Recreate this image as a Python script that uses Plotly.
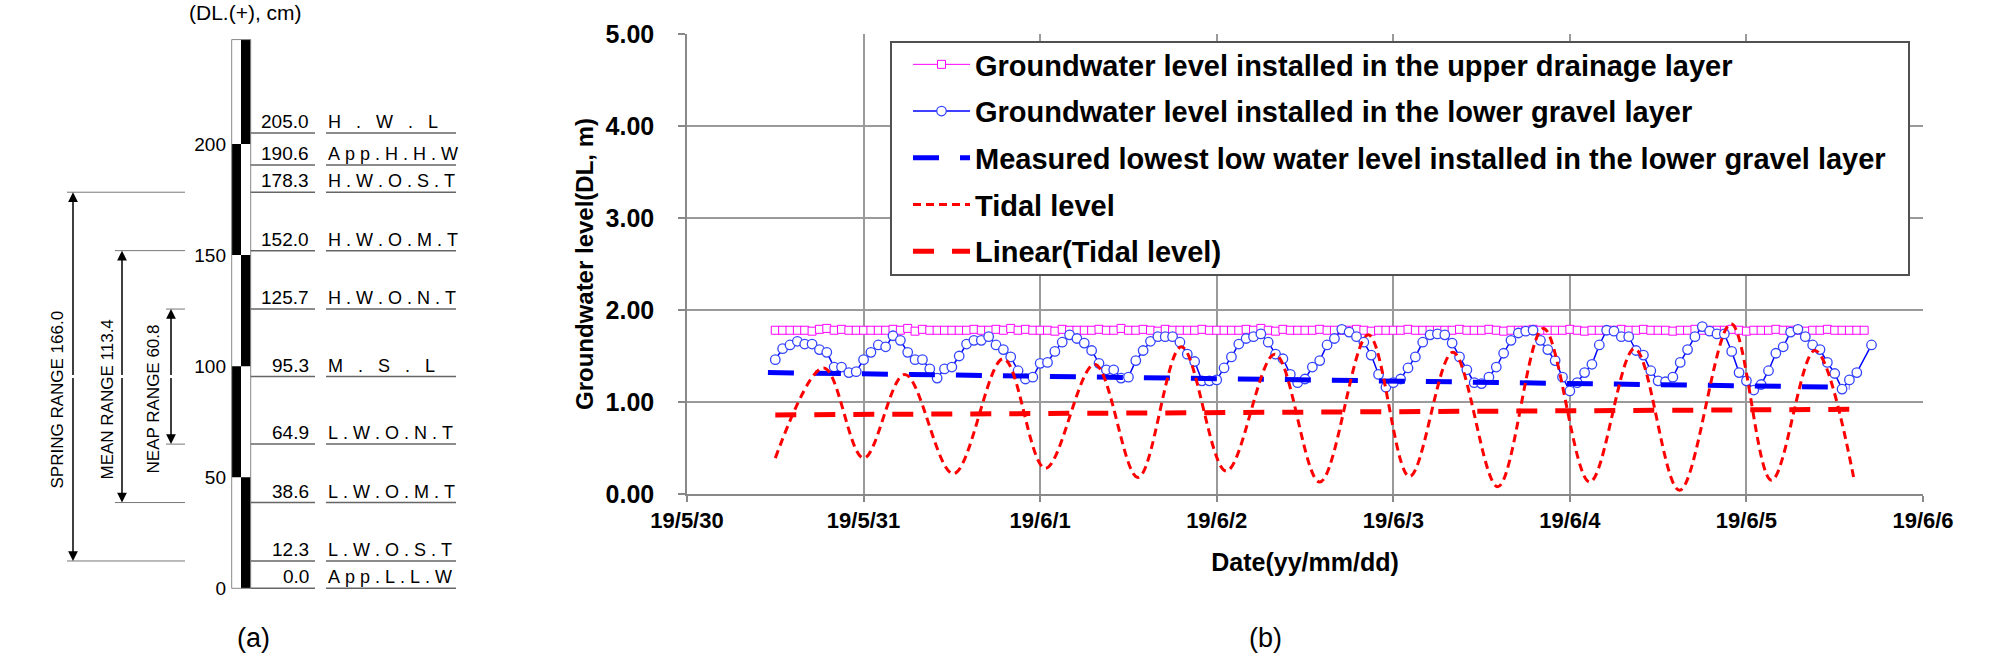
import plotly.graph_objects as go
import pandas as pd

# ---------------- Panel (b) data ----------------
series_start = "2019-05-30 12:00"   # first hourly observation

upper_drainage = [
    1.78, 1.78, 1.78, 1.78, 1.78, 1.77, 1.79, 1.80, 1.78, 1.79, 1.78, 1.78,
    1.78, 1.78, 1.78, 1.78, 1.79, 1.78, 1.80, 1.77, 1.79, 1.78, 1.78, 1.78,
    1.78, 1.78, 1.78, 1.79, 1.78, 1.78, 1.79, 1.78, 1.80, 1.78, 1.79, 1.78,
    1.78, 1.78, 1.77, 1.79, 1.78, 1.78, 1.78, 1.78, 1.79, 1.78, 1.78, 1.80,
    1.78, 1.78, 1.79, 1.78, 1.77, 1.79, 1.78, 1.78, 1.78, 1.78, 1.79, 1.78,
    1.78, 1.78, 1.78, 1.78, 1.79, 1.78, 1.80, 1.78, 1.77, 1.79, 1.78, 1.78,
    1.78, 1.78, 1.79, 1.78, 1.78, 1.78, 1.78, 1.79, 1.78, 1.77, 1.78, 1.78,
    1.78, 1.78, 1.79, 1.78, 1.78, 1.78, 1.78, 1.78, 1.78, 1.79, 1.78, 1.78,
    1.78, 1.79, 1.78, 1.77, 1.78, 1.78, 1.78, 1.79, 1.78, 1.78, 1.78, 1.78,
    1.79, 1.78, 1.77, 1.78, 1.78, 1.78, 1.78, 1.79, 1.78, 1.78, 1.79, 1.78,
    1.78, 1.78, 1.77, 1.78, 1.78, 1.79, 1.78, 1.78, 1.78, 1.78, 1.79, 1.78,
    1.77, 1.78, 1.78, 1.78, 1.79, 1.78, 1.78, 1.78, 1.77, 1.78, 1.78, 1.79,
    1.78, 1.78, 1.78, 1.78, 1.78,
]

lower_gravel = [
    1.46, 1.58, 1.62, 1.66, 1.63, 1.63, 1.57, 1.54, 1.38, 1.38, 1.32, 1.33,
    1.46, 1.54, 1.62, 1.60, 1.72, 1.67, 1.54, 1.46, 1.46, 1.36, 1.26, 1.36,
    1.38, 1.50, 1.63, 1.67, 1.67, 1.71, 1.62, 1.57, 1.49, 1.34, 1.25, 1.27,
    1.42, 1.43, 1.55, 1.65, 1.73, 1.69, 1.64, 1.56, 1.42, 1.35, 1.35, 1.26,
    1.27, 1.45, 1.56, 1.66, 1.71, 1.71, 1.71, 1.65, 1.52, 1.44, 1.23, 1.23,
    1.24, 1.37, 1.49, 1.63, 1.69, 1.71, 1.74, 1.65, 1.52, 1.47, 1.30, 1.21,
    1.25, 1.38, 1.45, 1.62, 1.69, 1.79, 1.76, 1.71, 1.65, 1.51, 1.30, 1.16,
    1.21, 1.25, 1.37, 1.49, 1.65, 1.73, 1.74, 1.73, 1.64, 1.49, 1.35, 1.21,
    1.20, 1.27, 1.38, 1.53, 1.67, 1.75, 1.77, 1.78, 1.67, 1.57, 1.45, 1.27,
    1.12, 1.21, 1.32, 1.41, 1.62, 1.78, 1.77, 1.71, 1.71, 1.56, 1.51, 1.34,
    1.23, 1.22, 1.27, 1.43, 1.57, 1.71, 1.82, 1.77, 1.74, 1.74, 1.55, 1.32,
    1.23, 1.13, 1.19, 1.34, 1.53, 1.60, 1.76, 1.79, 1.71, 1.62, 1.57, 1.43,
    1.31, 1.14, 1.24, 1.32, None, 1.62,
]

lowest_low_times = ["2019-05-30 11:00", "2019-06-05 14:00"]
lowest_low_values = [1.32, 1.16]

tidal_times = [
    "2019-05-30 12:00", "2019-05-30 18:36", "2019-05-31 00:00", "2019-05-31 05:36",
    "2019-05-31 12:12", "2019-05-31 19:00", "2019-06-01 00:42", "2019-06-01 07:24",
    "2019-06-01 13:18", "2019-06-01 19:12", "2019-06-02 01:18", "2019-06-02 07:54",
    "2019-06-02 14:00", "2019-06-02 20:36", "2019-06-03 02:12", "2019-06-03 08:06",
    "2019-06-03 14:12", "2019-06-03 20:24", "2019-06-04 02:42", "2019-06-04 08:48",
    "2019-06-04 14:54", "2019-06-04 21:54", "2019-06-05 03:24", "2019-06-05 09:18",
    "2019-06-05 14:42",
]
tidal_values = [
    0.39, 1.37, 0.39, 1.30, 0.22, 1.47, 0.28, 1.41, 0.18, 1.60, 0.25, 1.52,
    0.13, 1.73, 0.19, 1.54, 0.08, 1.80, 0.13, 1.58, 0.04, 1.85, 0.15, 1.56,
    0.13,
]

tidal_trend_times = ["2019-05-30 12:00", "2019-06-05 14:00"]
tidal_trend_values = [0.86, 0.92]

x_tick_dates = ["2019-05-30", "2019-05-31", "2019-06-01", "2019-06-02",
                "2019-06-03", "2019-06-04", "2019-06-05", "2019-06-06"]
x_tick_labels = ["19/5/30", "19/5/31", "19/6/1", "19/6/2",
                 "19/6/3", "19/6/4", "19/6/5", "19/6/6"]
y_tick_values = [0, 1, 2, 3, 4, 5]

series_names = [
    "Groundwater level installed in the upper drainage layer",
    "Groundwater level installed in the lower gravel layer",
    "Measured lowest low water level installed in the lower gravel layer",
    "Tidal level",
    "Linear(Tidal level)",
]

# ---------------- Panel (a) data ----------------
level_values = [205.0, 190.6, 178.3, 152.0, 125.7, 95.3, 64.9, 38.6, 12.3, 0.0]
level_names = ["H . W . L", "App.H.H.W", "H.W.O.S.T", "H.W.O.M.T", "H.W.O.N.T",
               "M . S . L", "L.W.O.N.T", "L.W.O.M.T", "L.W.O.S.T", "App.L.L.W"]
range_names = ["SPRING RANGE", "MEAN RANGE", "NEAP RANGE"]
range_tops = [178.3, 152.0, 125.7]
range_bottoms = [12.3, 38.6, 64.9]
scale_ticks = [0, 50, 100, 150, 200]
scale_top = 247

# ---------------- layout constants ----------------
W, H = 2008, 661
SANS = "Liberation Sans, Arial, sans-serif"

def fx(p):
    return p / W

def fy(p):
    return 1 - p / H

fig = go.Figure()

hourly = pd.date_range(series_start, periods=len(lower_gravel), freq="h")
hourly_up = pd.date_range(series_start, periods=len(upper_drainage), freq="h")

fig.add_trace(go.Scatter(
    x=hourly_up, y=upper_drainage, name=series_names[0], legendgroup="g1",
    mode="lines+markers",
    line=dict(color="#FF00FF", width=1),
    marker=dict(symbol="square", size=8, color="white",
                line=dict(color="#FF00FF", width=1)),
))
fig.add_trace(go.Scatter(
    x=hourly, y=lower_gravel, name=series_names[1], legendgroup="g2",
    mode="lines+markers", connectgaps=True,
    line=dict(color="#0000FF", width=1.5),
    marker=dict(symbol="circle", size=9.5, color="white",
                line=dict(color="#3344FF", width=1.3)),
))
fig.add_trace(go.Scatter(
    x=lowest_low_times, y=lowest_low_values, name=series_names[2], legendgroup="g3",
    mode="lines", line=dict(color="#0000FF", width=5, dash="26px,21px"),
))
fig.add_trace(go.Scatter(
    x=tidal_times, y=tidal_values, name=series_names[3], legendgroup="g4",
    mode="lines", line=dict(color="#FF0000", width=3, dash="8px,5px",
                            shape="spline", smoothing=1.0),
))
fig.add_trace(go.Scatter(
    x=tidal_trend_times, y=tidal_trend_values, name=series_names[4], legendgroup="g5",
    mode="lines", line=dict(color="#FF0000", width=5, dash="21px,18px"),
))

# ---------------- Panel (a) drawing ----------------
shapes = []
annotations = []

BAR_L, BAR_M, BAR_R = 231.7, 241.0, 250.7
seg = 0
lo = 0
while lo < scale_top:
    hi = min(lo + 50, scale_top)
    x0, x1 = (BAR_M, BAR_R) if seg % 2 == 0 else (BAR_L, BAR_M)
    shapes.append(dict(type="rect", xref="x2", yref="y2", x0=x0, x1=x1, y0=lo, y1=hi,
                       fillcolor="black", line=dict(width=0), layer="above"))
    lo = hi
    seg += 1
shapes.append(dict(type="rect", xref="x2", yref="y2", x0=BAR_L, x1=BAR_R, y0=0, y1=scale_top,
                   fillcolor="rgba(0,0,0,0)", line=dict(color="#888888", width=1), layer="above"))

for val, name in zip(level_values, level_names):
    shapes.append(dict(type="line", xref="x2", yref="y2", x0=BAR_R, x1=315, y0=val, y1=val,
                       line=dict(color="#666666", width=1.5)))
    shapes.append(dict(type="line", xref="x2", yref="y2", x0=326, x1=456, y0=val, y1=val,
                       line=dict(color="#666666", width=1.5)))
    annotations.append(dict(xref="x2", yref="y2", x=311, y=val, text=f"{val:.1f}",
                            xanchor="right", yanchor="bottom", showarrow=False,
                            font=dict(family=SANS, size=19, color="black"), yshift=-1))
    shown = "\u00a0".join(name.replace(" ", "\u00a0"))
    annotations.append(dict(xref="x2", yref="y2", x=326, y=val, text=shown,
                            xanchor="left", yanchor="bottom", showarrow=False,
                            font=dict(family=SANS, size=18, color="black"), yshift=-1))

range_x = [73, 122, 171]
range_line_x0 = [67, 115, 166]
range_text_x = [57, 107, 153]
for name, top, bot, lx, hx, tx in zip(range_names, range_tops, range_bottoms,
                                      range_x, range_line_x0, range_text_x):
    for v in (top, bot):
        shapes.append(dict(type="line", xref="x2", yref="y2", x0=hx, x1=185, y0=v, y1=v,
                           line=dict(color="#777777", width=1)))
    mid = (top + bot) / 2
    for v in (top, bot):
        annotations.append(dict(xref="x2", yref="y2", axref="x2", ayref="y2",
                                x=lx, y=v, ax=lx, ay=mid, text="", showarrow=True,
                                arrowhead=2, arrowsize=1.3, arrowwidth=1.5,
                                arrowcolor="black", standoff=0, startstandoff=0))
    annotations.append(dict(xref="x2", yref="y2", x=tx, y=85, textangle=-90,
                            text=f"{name} {top - bot:.1f}", showarrow=False,
                            xanchor="center", yanchor="middle",
                            font=dict(family=SANS, size=17, color="black")))

annotations.append(dict(xref="paper", yref="paper", x=fx(245), y=fy(13),
                        text="(DL.(+), cm)", showarrow=False, xanchor="center",
                        yanchor="middle", font=dict(family=SANS, size=21, color="black")))
annotations.append(dict(xref="paper", yref="paper", x=fx(253), y=fy(638),
                        text="(a)", showarrow=False, xanchor="center", yanchor="middle",
                        font=dict(family=SANS, size=27, color="black")))
annotations.append(dict(xref="paper", yref="paper", x=fx(1265), y=fy(638),
                        text="(b)", showarrow=False, xanchor="center", yanchor="middle",
                        font=dict(family=SANS, size=27, color="black")))

# legend frame (the legend itself is drawn transparent on top of it)
shapes.append(dict(type="rect", xref="paper", yref="paper",
                   x0=fx(891), x1=fx(1909), y0=fy(275), y1=fy(42),
                   fillcolor="white", line=dict(color="#505050", width=2), layer="above"))

y2_zero_px, px_per_cm = 588.3, 2.2215
y2_range = [(y2_zero_px - H) / px_per_cm, y2_zero_px / px_per_cm]
x2_domain = [0, 0.32]
x2_width = W * x2_domain[1]

GRID = "#9a9a9a"
AX = "#888888"

fig.update_layout(
    width=W, height=H, autosize=False,
    margin=dict(l=0, r=0, t=0, b=0, pad=0, autoexpand=False),
    paper_bgcolor="white", plot_bgcolor="white",
    xaxis=dict(
        domain=[fx(687), fx(1923)], type="date", automargin=False,
        range=[x_tick_dates[0], x_tick_dates[-1]],
        tickvals=x_tick_dates, ticktext=x_tick_labels,
        ticks="outside", ticklen=6, tickcolor=AX, tickwidth=1.5,
        showgrid=True, gridcolor=GRID, gridwidth=1.5,
        showline=True, linecolor=AX, linewidth=1.5,
        zeroline=False,
        tickfont=dict(family=SANS, size=22, color="black", weight="bold"),
        title=dict(text="Date(yy/mm/dd)", standoff=21,
                   font=dict(family=SANS, size=25, color="black", weight="bold")),
    ),
    yaxis=dict(
        domain=[fy(494), fy(34)], range=[0, 5], tickvals=y_tick_values,
        tickformat=".2f", automargin=False,
        ticks="outside", ticklen=7, tickcolor=AX, tickwidth=1.5,
        showgrid=True, gridcolor=GRID, gridwidth=1.5,
        showline=True, linecolor=AX, linewidth=1.5, zeroline=False,
        ticklabelstandoff=19,
        tickfont=dict(family=SANS, size=25, color="black", weight="bold"),
        title=dict(text="Groundwater level(DL, m)", standoff=5,
                   font=dict(family=SANS, size=24, color="black", weight="bold")),
    ),
    xaxis2=dict(domain=x2_domain, range=[0, x2_width], anchor="y2", visible=False,
                fixedrange=True, automargin=False),
    yaxis2=dict(domain=[0, 1], range=y2_range, anchor="free", position=fx(226),
                tickvals=scale_ticks, ticks="", showgrid=False, zeroline=False,
                showline=False, automargin=False,
                tickfont=dict(family=SANS, size=19, color="black")),
    legend=dict(
        x=fx(908), y=fy(39), xanchor="left", yanchor="top",
        bgcolor="rgba(0,0,0,0)", borderwidth=0,
        font=dict(family=SANS, size=29, color="black", weight="bold"),
        itemwidth=57, tracegroupgap=6,
    ),
    showlegend=True,
    shapes=shapes,
    annotations=annotations,
)

fig.write_html(
    "out.html",
    config={"displayModeBar": False},
    post_script="document.body.style.margin='0';document.body.style.overflow='hidden';",
)
